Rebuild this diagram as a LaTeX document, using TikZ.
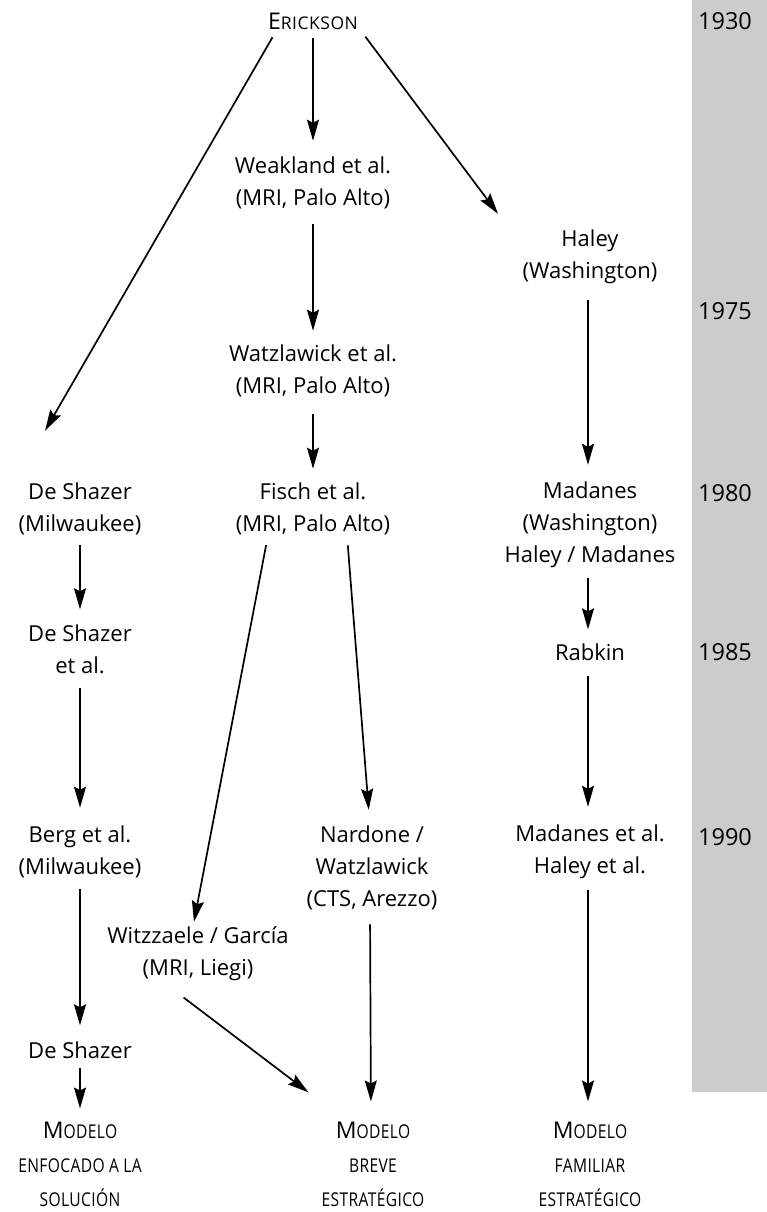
\documentclass[tikz,border=0pt]{standalone}
\usepackage{fontspec}
\setmainfont{Open Sans}
\usetikzlibrary{arrows.meta}
\newcommand{\smc}[1]{{\fontsize{19}{20}\selectfont\addfontfeature{FakeStretch=0.82,LetterSpace=2}#1}}
\newcommand{\smct}[1]{{\fontsize{17.5}{20}\selectfont\addfontfeature{LetterSpace=3}#1}}
\newcommand{\bigc}[1]{{\fontsize{23}{32}\selectfont #1}}
\definecolor{barcol}{RGB}{204,204,204}
\begin{document}
\begin{tikzpicture}[x=1pt,y=-1pt,
  lbl/.style={align=center,inner sep=0pt,font=\fontsize{22}{32}\selectfont},
  mdl/.style={align=center,inner sep=0pt,font=\fontsize{22}{34}\selectfont},
  yr/.style={inner sep=0pt,font=\fontsize{23.5}{32}\selectfont},
  arr/.style={-{Stealth[length=21pt,width=12pt,inset=3pt]},line width=1.7pt}]
\useasboundingbox (0,0) rectangle (767,1212);
\fill[barcol] (692,0) rectangle (767,1092);
% years
\node[yr] (y1930) at (725,21) {1930};
\node[yr] (y1975) at (725,311) {1975};
\node[yr] (y1980) at (725,493) {1980};
\node[yr] (y1985) at (725,652) {1985};
\node[yr] (y1990) at (725,837) {1990};
% nodes
\node[lbl] (erick) at (313,21) {\bigc{E}\smct{RICKSON}};
\node[lbl] (weak) at (313,183) {Weakland et al.\\(MRI, Palo Alto)};
\node[lbl] (haley) at (590,257) {Haley\\(Washington)};
\node[lbl] (watz) at (313,371) {Watzlawick et al.\\(MRI, Palo Alto)};
\node[lbl] (desh) at (80,509) {De Shazer\\(Milwaukee)};
\node[lbl] (fisch) at (313,509) {Fisch et al.\\(MRI, Palo Alto)};
\node[lbl] (madanes) at (590,525) {Madanes\\(Washington)\\Haley / Madanes};
\node[lbl] (deshet) at (80,649) {De Shazer\\et al.};
\node[lbl] (rabkin) at (590,652) {Rabkin};
\node[lbl] (berg) at (80,852) {Berg et al.\\(Milwaukee)};
\node[lbl] (nardone) at (372,868) {Nardone /\\Watzlawick\\(CTS, Arezzo)};
\node[lbl] (madet) at (590,852) {Madanes et al.\\Haley et al.};
\node[lbl] (witz) at (198,954) {Witzzaele / García\\(MRI, Liegi)};
\node[lbl] (desh2) at (80,1050) {De Shazer};
\node[mdl] (m1) at (80,1164) {\bigc{M}\smc{ODELO}\\\smc{ENFOCADO A LA}\\\smc{SOLUCIÓN}};
\node[mdl] (m2) at (373,1164) {\bigc{M}\smc{ODELO}\\\smc{BREVE}\\\smc{ESTRATÉGICO}};
\node[mdl] (m3) at (590,1164) {\bigc{M}\smc{ODELO}\\\smc{FAMILIAR}\\\smc{ESTRATÉGICO}};
% arrows
\draw[arr,shorten <=9pt,shorten >=60pt] ([xshift=-36pt]erick.south) -- ([xshift=-65pt]desh.north);
\draw[arr,shorten <=9pt,shorten >=16pt] (erick.south) -- (weak.north);
\draw[arr,shorten <=9pt,shorten >=20pt] ([xshift=47pt]erick.south) -- ([xshift=-80pt]haley.north);
\draw[arr,shorten <=15pt,shorten >=14pt] (weak.south) -- (watz.north);
\draw[arr,shorten <=16pt,shorten >=17pt] ([xshift=-2pt]haley.south) -- ([xshift=-2pt]madanes.north);
\draw[arr,shorten <=17pt,shorten >=14pt] (watz.south) -- (fisch.north);
\draw[arr,shorten <=10pt,shorten >=15pt] (desh.south) -- (deshet.north);
\draw[arr,shorten <=10pt,shorten >=14pt] ([xshift=-2pt]madanes.south) -- ([xshift=-2pt]rabkin.north);
\draw[arr,shorten <=10pt,shorten >=5pt] ([xshift=-45pt]fisch.south) -- ([xshift=-5pt]witz.north);
\draw[arr,shorten <=10pt,shorten >=16pt] ([xshift=34pt]fisch.south) -- ([xshift=-2pt]nardone.north);
\draw[arr,shorten <=14pt,shorten >=18pt] (deshet.south) -- (berg.north);
\draw[arr,shorten <=15pt,shorten >=18pt] ([xshift=-2pt]rabkin.south) -- ([xshift=-2pt]madet.north);
\draw[arr,shorten <=11pt,shorten >=16pt] (berg.south) -- (desh2.north);
\draw[arr,shorten <=14pt,shorten >=20pt] ([xshift=-2pt]nardone.south) -- ([xshift=-2pt]m2.north);
\draw[arr,shorten <=11pt,shorten >=20pt] ([xshift=-2pt]madet.south) -- ([xshift=-2pt]m3.north);
\draw[arr,shorten <=2pt,shorten >=2pt] ([xshift=-16pt,yshift=-15pt]witz.south) -- ([xshift=-63pt,yshift=28pt]m2.north);
\draw[arr,shorten <=9pt,shorten >=13pt] (desh2.south) -- (m1.north);
\end{tikzpicture}
\end{document}
